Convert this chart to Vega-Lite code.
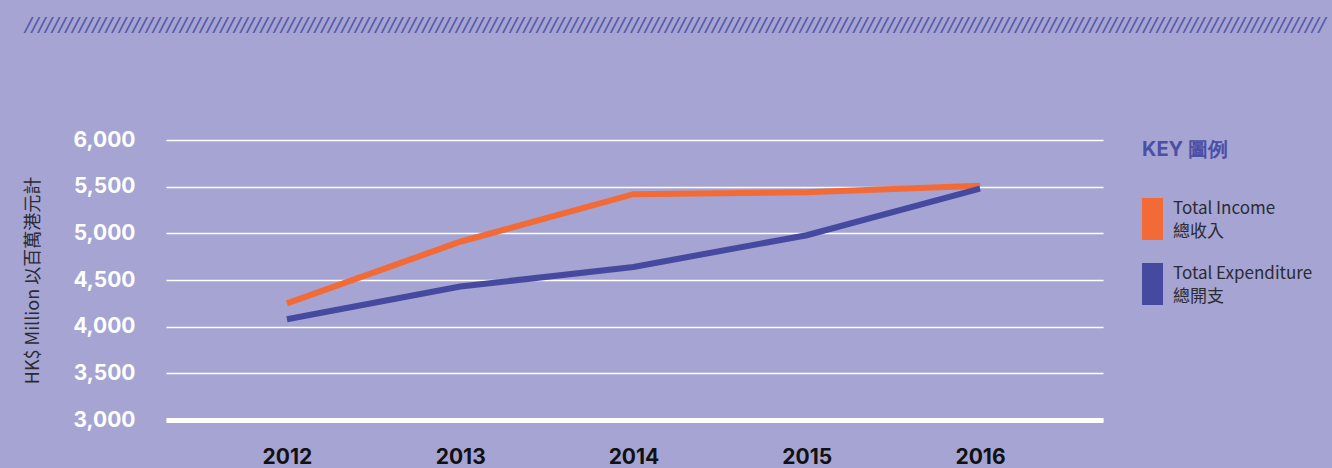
{
  "$schema": "https://vega.github.io/schema/vega-lite/v6.json",
  "width": 937,
  "height": 280,
  "autosize": {"type": "none"},
  "padding": {"left": 166, "top": 140, "right": 229, "bottom": 48},
  "background": "#A5A4D2",
  "config": {"view": {"stroke": null}},
  "title": {
    "text": "/////////////////////////////////////////////////////////////////////////////////////////////////////////////////////////////////////////////////////////////////////////////////////////////////",
    "anchor": "start",
    "frame": "group",
    "dx": -141,
    "offset": 94,
    "fontSize": 20,
    "font": "DejaVu Sans",
    "fontStyle": "italic",
    "fontWeight": "normal",
    "color": "#5658A9"
  },
  "data": {
    "values": [
      {"year": 2012, "value": 4250, "series": "Total Income"},
      {"year": 2013, "value": 4910, "series": "Total Income"},
      {"year": 2014, "value": 5420, "series": "Total Income"},
      {"year": 2015, "value": 5440, "series": "Total Income"},
      {"year": 2016, "value": 5510, "series": "Total Income"},
      {"year": 2012, "value": 4080, "series": "Total Expenditure"},
      {"year": 2013, "value": 4430, "series": "Total Expenditure"},
      {"year": 2014, "value": 4640, "series": "Total Expenditure"},
      {"year": 2015, "value": 4980, "series": "Total Expenditure"},
      {"year": 2016, "value": 5480, "series": "Total Expenditure"}
    ]
  },
  "mark": {"type": "line", "strokeWidth": 6, "strokeCap": "butt", "strokeJoin": "miter"},
  "encoding": {
    "x": {
      "field": "year",
      "type": "quantitative",
      "scale": {"domain": [2011.302, 2016.71], "nice": false, "zero": false},
      "axis": {
        "title": null,
        "values": [2012, 2013, 2014, 2015, 2016],
        "format": "d",
        "grid": false,
        "ticks": false,
        "tickSize": 0,
        "domainColor": "#FFFFFF",
        "domainWidth": 5,
        "labelFont": "Inter",
        "labelFontWeight": "bold",
        "labelFontSize": 21,
        "labelColor": "#111111",
        "labelPadding": 26
      }
    },
    "y": {
      "field": "value",
      "type": "quantitative",
      "scale": {"domain": [3000, 6000], "nice": false, "zero": false},
      "axis": {
        "title": "HK$ Million 以百萬港元計",
        "values": [3000, 3500, 4000, 4500, 5000, 5500, 6000],
        "format": ",d",
        "grid": true,
        "gridColor": "#FFFFFF",
        "gridWidth": 1.5,
        "gridOpacity": 1,
        "domain": false,
        "ticks": false,
        "tickSize": 0,
        "labelFont": "Inter",
        "labelFontWeight": "bold",
        "labelFontSize": 21,
        "labelColor": "#FFFFFF",
        "labelPadding": 31,
        "titleFont": "Noto Sans CJK TC",
        "titleFontSize": 18,
        "titleFontWeight": "normal",
        "titleColor": "#2B2B33",
        "titlePadding": 30
      }
    },
    "color": {
      "field": "series",
      "type": "nominal",
      "scale": {"domain": ["Total Income", "Total Expenditure"], "range": ["#F26B36", "#4549A0"]},
      "legend": {
        "title": "KEY 圖例",
        "orient": "right",
        "offset": 39,
        "titleFont": "Inter",
        "titleFontSize": 20,
        "titleFontWeight": "bold",
        "titleColor": "#4B4FA5",
        "titlePadding": 38,
        "symbolType": "M-1,-1L0,-1L0,1L-1,1Z",
        "symbolSize": 1764,
        "symbolStrokeWidth": 0,
        "labelOffset": -11,
        "labelFont": "Noto Sans CJK TC",
        "labelFontSize": 17,
        "labelColor": "#2B2B33",
        "labelLimit": 300,
        "rowPadding": 23,
        "labelExpr": "datum.label == 'Total Income' ? ['Total Income', '總收入'] : ['Total Expenditure', '總開支']",
        "encode": {
          "symbols": {
            "update": {
              "fill": {"scale": "color", "field": "value"},
              "opacity": {"value": 1}
            }
          },
          "labels": {
            "update": {
              "lineHeight": {"value": 23},
              "dy": {"value": -10}
            }
          }
        }
      }
    }
  }
}
